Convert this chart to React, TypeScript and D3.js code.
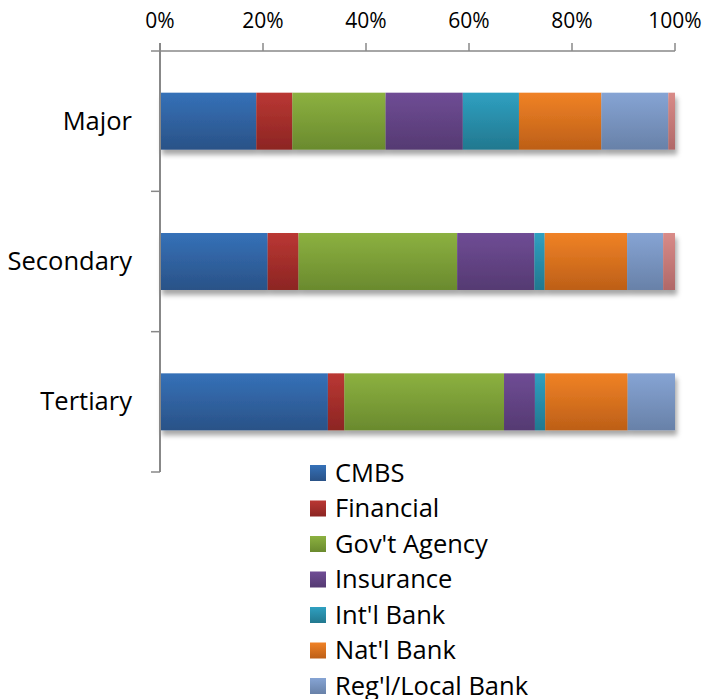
import React from "react";
import * as d3 from "d3";

const categories = ["Major", "Secondary", "Tertiary"];
const seriesNames = ["CMBS", "Financial", "Gov't Agency", "Insurance", "Int'l Bank", "Nat'l Bank", "Reg'l/Local Bank", "Other"];
const cmbs = [18.7, 20.9, 32.6];
const financial = [7.0, 6.0, 3.2];
const govAgency = [18.1, 30.8, 31.0];
const insurance = [15.0, 15.0, 6.0];
const intlBank = [10.9, 2.0, 2.0];
const natlBank = [16.0, 16.0, 16.0];
const reglBank = [13.0, 7.0, 9.2];
const other = [1.3, 2.3, 0];
const tickValues = [0, 0.2, 0.4, 0.6, 0.8, 1.0];

const seriesValues = [cmbs, financial, govAgency, insurance, intlBank, natlBank, reglBank, other];
const topColors = ["#3571B8", "#BA3733", "#8CB140", "#6F4C95", "#2FA0C1", "#F08226", "#86A4D4", "#D98B88"];
const bottomColors = ["#2A5287", "#8C2523", "#6A8A2E", "#553A72", "#22788F", "#BD5F17", "#6881A8", "#B06868"];

const W = 702;
const H = 699;
const FONT = "'Open Sans', sans-serif";

export default function App() {
  const rows = categories.map((c, i) => {
    const r: Record<string, any> = { cat: c };
    seriesNames.forEach((s, j) => (r[s] = seriesValues[j][i]));
    return r;
  });
  const stacked = d3.stack<any>().keys(seriesNames).offset(d3.stackOffsetExpand)(rows);

  const x = d3.scaleLinear().domain([0, 1]).range([160, 675]);
  const y = d3.scaleBand<string>().domain(categories).range([51, 472]).paddingInner(0.594).paddingOuter(0.297);
  const step = y.step();
  const axisColor = "#888888";

  const legendRowY = (j: number) => 473 + j * 35.5;
  const legendItems = seriesNames.map((s, j) => ({ s, j })).filter(({ j }) => legendRowY(j) < H - 10);

  return (
    <svg width={W} height={H} style={{ position: "absolute", left: 0, top: 0 }} fontFamily={FONT}>
      <defs>
        {seriesNames.map((s, j) => (
          <linearGradient key={s} id={`g${j}`} x1="0" y1="0" x2="0" y2="1">
            <stop offset="0" stopColor={topColors[j]} />
            <stop offset="1" stopColor={bottomColors[j]} />
          </linearGradient>
        ))}
        <filter id="shadow" x="-5%" y="-20%" width="115%" height="160%">
          <feDropShadow dx="2" dy="5" stdDeviation="2.5" floodColor="#000" floodOpacity="0.35" />
        </filter>
      </defs>

      {/* bars */}
      {categories.map((c, i) => (
        <g key={c} filter="url(#shadow)">
          {stacked.map((layer, j) => {
            const d = layer[i];
            const w = x(d[1]) - x(d[0]);
            if (w <= 0) return null;
            return (
              <rect key={j} x={x(d[0])} y={y(c)!} width={w} height={y.bandwidth()} fill={`url(#g${j})`} />
            );
          })}
        </g>
      ))}

      {/* top axis */}
      <line x1={151} x2={x(1)} y1={51} y2={51} stroke={axisColor} strokeWidth={1.5} />
      {tickValues.map((t) => (
        <g key={t}>
          <line x1={x(t)} x2={x(t)} y1={43} y2={51} stroke={axisColor} strokeWidth={1.5} />
          <text x={x(t)} y={28} textAnchor="middle" fontSize={21} fill="#000">
            {d3.format(".0%")(t)}
          </text>
        </g>
      ))}

      {/* left axis */}
      <line x1={160} x2={160} y1={43} y2={472} stroke={axisColor} strokeWidth={2} />
      {categories.map((c) => (
        <line key={c} x1={151} x2={160} y1={y(c)! - y.paddingOuter() * step + step} y2={y(c)! - y.paddingOuter() * step + step} stroke={axisColor} strokeWidth={1.5} />
      ))}
      {categories.map((c) => (
        <text key={c} x={132} y={y(c)! + y.bandwidth() / 2 + 8.5} textAnchor="end" fontSize={25.5} fill="#000">
          {c}
        </text>
      ))}

      {/* legend */}
      {legendItems.map(({ s, j }) => {
        const cy = legendRowY(j);
        return (
          <g key={s}>
            <rect x={310} y={cy - 8} width={16} height={16} fill={`url(#g${j})`} />
            <text x={335} y={cy + 8.5} fontSize={25.5} fill="#000">
              {s}
            </text>
          </g>
        );
      })}
    </svg>
  );
}
